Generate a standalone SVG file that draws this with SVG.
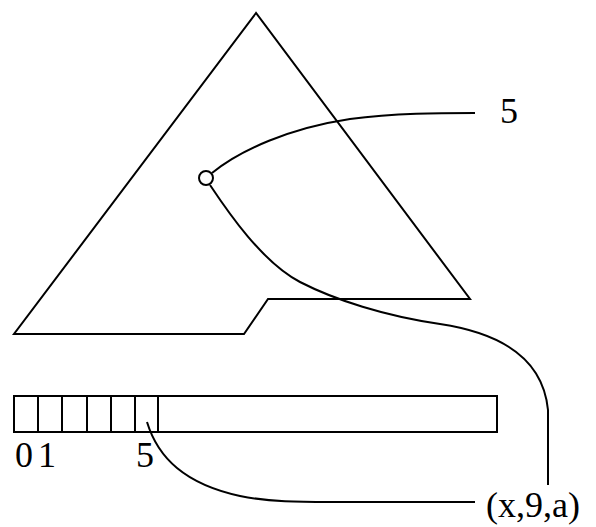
<svg xmlns="http://www.w3.org/2000/svg" width="596" height="527" viewBox="0 0 596 527">
  <style>
    .ln { fill: none; stroke: #000; stroke-width: 2; stroke-linejoin: miter; }
    .lbl { font-family: 'Liberation Serif', 'DejaVu Serif', serif; font-size: 36px; fill: #000; }
  </style>
  <rect width="596" height="527" fill="#fff"/>
  <g id="region">
    <path class="ln" d="M256,13 L14,334 L244,334 L268,299 L470,299 Z"/>
  </g>
  <g id="point">
    <circle class="ln" cx="206" cy="178" r="7" fill="#fff"/>
  </g>
  <g id="array">
    <rect class="ln" x="14" y="396" width="483" height="36"/>
    <path class="ln" d="M38,396 V432 M62,396 V432 M87,396 V432 M111,396 V432 M135,396 V432 M158,396 V432"/>
    <text class="lbl" x="15" y="467">0</text>
    <text class="lbl" x="38" y="467">1</text>
    <text class="lbl" x="136" y="467">5</text>
  </g>
  <g id="label-5">
    <text class="lbl" x="500" y="123">5</text>
  </g>
  <g id="label-tuple">
    <text class="lbl" x="486" y="517">(x,9,a)</text>
  </g>
  <g id="connectors">
    <path class="ln" d="M212,173 C240,150 290,128 350,119 C395,113 440,113 475,113"/>
    <path class="ln" d="M210,185 C228,212 262,262 300,282 C335,300 385,316 440,324 C500,333 543,358 548,410 L548,485"/>
    <path class="ln" d="M147,422 C158,458 185,484 240,496 C270,502 300,502 330,502 L475,502"/>
  </g>
</svg>
